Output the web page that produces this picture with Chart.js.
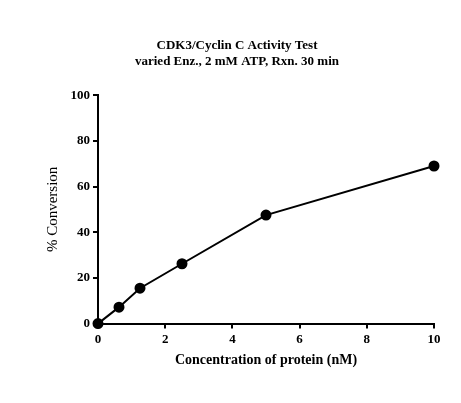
<!DOCTYPE html>
<html><head><script src="https://cdn.jsdelivr.net/npm/chart.js@4/dist/chart.umd.min.js"></script>
<style>html,body{margin:0;padding:0;background:#fff}#w{width:461px;height:403px}</style></head>
<body><div id="w"><canvas id="c"></canvas></div>
<script>
const xValues=[0,0.625,1.25,2.5,5,10];
const yValues=[0,7.2,15.5,26.2,47.5,69];
const titleLines=['CDK3/Cyclin C Activity Test','varied Enz., 2 mM ATP, Rxn. 30 min'];
const F='"Liberation Serif","Times New Roman",serif';
new Chart(document.getElementById('c'),{type:'scatter',
data:{datasets:[{data:xValues.map((x,i)=>({x,y:yValues[i]})),showLine:true,borderColor:'#000',backgroundColor:'#000',borderWidth:2,pointRadius:4.5,clip:false}]},
options:{responsive:true,maintainAspectRatio:false,animation:false,
layout:{padding:{left:40,right:27,top:38,bottom:30}},
plugins:{legend:{display:false},tooltip:{enabled:false},
title:{display:true,text:titleLines,color:'#000',font:{family:F,size:13,weight:'bold'},padding:{top:0,bottom:26},lineHeight:1.3}},
scales:{
x:{type:'linear',min:0,max:10,ticks:{stepSize:2,color:'#000',font:{family:F,size:13,weight:'bold'},padding:3},
grid:{drawOnChartArea:false,tickLength:5,color:'#000',lineWidth:2},border:{color:'#000',width:2},
title:{display:true,text:'Concentration of protein (nM)',color:'#000',font:{family:F,size:14,weight:'bold'},padding:{top:2}}},
y:{min:0,max:100,ticks:{stepSize:20,color:'#000',font:{family:F,size:13,weight:'bold'},padding:3},
grid:{drawOnChartArea:false,tickLength:5,color:'#000',lineWidth:2},border:{color:'#000',width:2},
afterFit:s=>{s.width=58},
title:{display:true,text:'% Conversion',color:'#000',font:{family:F,size:15},padding:{bottom:2}}}}}});
</script></body></html>
